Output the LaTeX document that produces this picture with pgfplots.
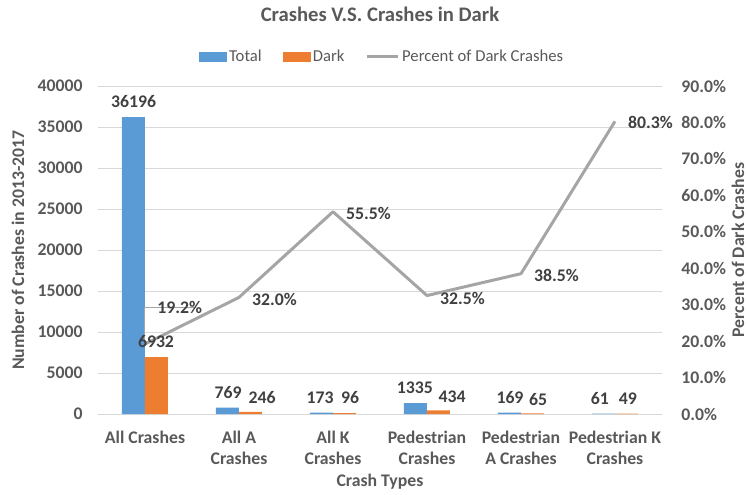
\documentclass[border=0pt]{standalone}
\usepackage{fontspec}
\setmainfont{Carlito}
\usepackage{pgfplots}
\usepackage{pgfplotstable}
\pgfplotsset{compat=1.18}
\definecolor{cblue}{HTML}{5B9BD5}
\definecolor{corange}{HTML}{ED7D31}
\definecolor{cgray}{HTML}{A5A5A5}
\definecolor{ctxt}{HTML}{595959}
\definecolor{clab}{HTML}{404040}
\definecolor{cgrid}{HTML}{D9D9D9}

% bar values
\pgfplotstableread{
x total dark
0 36196 6932
1 769 246
2 173 96
3 1335 434
4 169 65
5 61 49
}\bars
% bar value labels: position (x in category units, y in crash counts) and text
\pgfplotstableread{
lx ly t
-0.122 38100 36196
0.883 2600 769
1.862 2000 173
2.872 3250 1335
3.883 1950 169
4.840 1900 61
}\tlab
\pgfplotstableread{
lx ly t
0.117 8780 6932
1.245 2070 246
2.181 1950 96
3.266 2070 434
4.181 1800 65
5.138 1880 49
}\dlab
% percent of dark crashes
\pgfplotstableread{
x pct
0 19.2
1 32.0
2 55.5
3 32.5
4 38.5
5 80.3
}\pcts
\pgfplotstableread{
lx ly t
0.128 29.1 19.2\%
1.138 31.3 32.0\%
2.138 54.9 55.5\%
3.138 31.6 32.5\%
4.138 37.9 38.5\%
5.138 79.9 80.3\%
}\plab

\newcommand{\tf}{\fontsize{13.3}{16}\bfseries\selectfont}

\pgfplotsset{
  common/.style={
    scale only axis, width=423pt, height=246pt,
    xmin=-0.5, xmax=5.5,
    axis line style={draw=none},
    major tick length=0pt,
    tick style={draw=none},
    scaled ticks=false,
    /pgf/number format/assume math mode=true,
    /pgf/number format/1000 sep={},
    ticklabel style={font=\tf, text=ctxt},
    label style={font=\tf, text=ctxt},
  },
  labs/.style={draw=none, mark=none, forget plot,
    nodes near coords, point meta=explicit symbolic,
    every node near coord/.append style={anchor=#1, inner sep=0pt, font=\tf, text=clab}},
}

\begin{document}
\begin{tikzpicture}
\path[use as bounding box] (-73.5pt,-60pt) rectangle (486.75pt,310.5pt);
\begin{axis}[
  common,
  ymin=0, ymax=40000,
  ytick={0,5000,...,40000},
  yticklabel={\pgfmathprintnumber[fixed,precision=0]{\tick}},
  ymajorgrids, grid style={cgrid, line width=0.75pt},
  xtick={0,...,5},
  xticklabels={All Crashes, {All A\\Crashes}, {All K\\Crashes}, {Pedestrian\\Crashes}, {Pedestrian\\A Crashes}, {Pedestrian K\\Crashes}},
  xticklabel style={align=center, anchor=north, yshift=-9pt},
  yticklabel style={anchor=east, xshift=-8pt},
  xlabel={Crash Types},
  xlabel style={at={(axis description cs:0.5,-0.2073)}, anchor=center},
  ylabel={Number of Crashes in 2013-2017},
  ylabel style={at={(axis description cs:-0.1418,0.5)}, anchor=center},
  title={Crashes V.S. Crashes in Dark},
  title style={at={(axis description cs:0.5,1.195)}, anchor=center, font=\fontsize{15.5}{18}\bfseries\selectfont, text=ctxt},
  legend style={at={(axis description cs:0.5044,1.09)}, anchor=center, draw=none, fill=none,
    font=\fontsize{12.5}{15}\selectfont, text=ctxt, legend columns=3,
    /tikz/every even column/.append style={column sep=14pt},
    cells={anchor=west}},
]
\addplot[ybar, bar width=17.25pt, bar shift=-8.625pt, fill=cblue, draw=none, forget plot]
  table[x=x, y=total] {\bars};
\addplot[ybar, bar width=17.25pt, bar shift=8.625pt, fill=corange, draw=none, forget plot]
  table[x=x, y=dark] {\bars};
\addlegendimage{legend image code/.code={\fill[cblue] (0pt,-3.4pt) rectangle (20pt,3.4pt);}}
\addlegendentry{Total}
\addlegendimage{legend image code/.code={\fill[corange] (0pt,-3.4pt) rectangle (20pt,3.4pt);}}
\addlegendentry{Dark}
\addlegendimage{legend image code/.code={\draw[cgray, line width=2.25pt] (0pt,0pt) -- (23pt,0pt);}}
\addlegendentry{Percent of Dark Crashes}
\end{axis}
\begin{axis}[
  common,
  ymin=0, ymax=90,
  ytick={0,10,...,90},
  axis x line=none,
  axis y line*=right,
  yticklabel={\pgfmathprintnumber[fixed,fixed zerofill,precision=1]{\tick}\%},
  yticklabel style={anchor=west, xshift=11pt},
  ylabel={Percent of Dark Crashes},
  ylabel style={at={(axis description cs:1.1348,0.5)}, anchor=center},
]
\addplot[cgray, line width=2.25pt, line join=round, mark=none]
  table[x=x, y=pct] {\pcts};
\draw[cgray, line width=0.75pt] (axis cs:0,19.2) -- (axis cs:0,29.1) -- ++(3pt,0);
\addplot[labs=west] table[x=lx, y=ly, meta=t] {\plab};
\end{axis}
\begin{axis}[common, ymin=0, ymax=40000, axis x line=none, axis y line=none]
\addplot[labs=center] table[x=lx, y=ly, meta=t] {\tlab};
\addplot[labs=center] table[x=lx, y=ly, meta=t] {\dlab};
\end{axis}
\end{tikzpicture}
\end{document}
